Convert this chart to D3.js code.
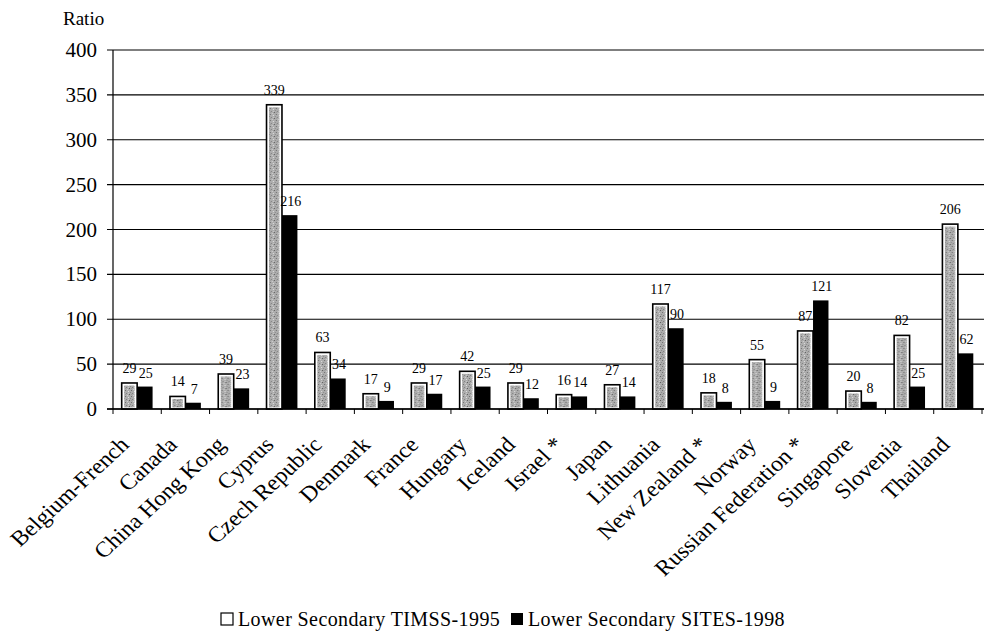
<!DOCTYPE html>
<html>
<head>
<meta charset="utf-8">
<script src="https://cdn.jsdelivr.net/npm/d3@7"></script>
<style>
  html, body { margin: 0; padding: 0; background: #fff; }
  svg { display: block; }
</style>
</head>
<body>
<script>
const categories = ["Belgium-French", "Canada", "China Hong Kong", "Cyprus", "Czech Republic", "Denmark", "France", "Hungary", "Iceland", "Israel *", "Japan", "Lithuania", "New Zealand *", "Norway", "Russian Federation *", "Singapore", "Slovenia", "Thailand"];
const timss1995 = [29, 14, 39, 339, 63, 17, 29, 42, 29, 16, 27, 117, 18, 55, 87, 20, 82, 206];
const sites1998 = [25, 7, 23, 216, 34, 9, 17, 25, 12, 14, 14, 90, 8, 9, 121, 8, 25, 62];
const seriesNames = ["Lower Secondary TIMSS-1995", "Lower Secondary SITES-1998"];
const yTicks = [0, 50, 100, 150, 200, 250, 300, 350, 400];

const W = 984, H = 638;
const FONT = "'Liberation Serif', 'DejaVu Serif', 'Times New Roman', serif";
const margin = { left: 113, right: 2, top: 50, bottom: 229 };
const svg = d3.select("body").append("svg").attr("width", W).attr("height", H)
  .attr("font-family", FONT).style("font-family", FONT);

// speckled texture pattern
const defs = svg.append("defs");
const pat = defs.append("pattern").attr("id", "speck").attr("patternUnits", "userSpaceOnUse")
  .attr("width", 6).attr("height", 6);
pat.append("rect").attr("width", 6).attr("height", 6).attr("fill", "#adadad");
const speckDots = [[0,0,"#6e6e6e"],[3,1,"#e0e0e0"],[1,3,"#808080"],[4,4,"#5a5a5a"],[2,5,"#d0d0d0"],[5,2,"#8a8a8a"],[0,4,"#9a9a9a"],[3,3,"#c8c8c8"]];
speckDots.forEach(([x,y,c]) => pat.append("rect").attr("x", x).attr("y", y).attr("width", 1).attr("height", 1).attr("fill", c));

const x0 = d3.scaleBand().domain(categories).range([margin.left, W - margin.right]).paddingInner(0).paddingOuter(0);
const bw = x0.bandwidth();
const x1 = d3.scaleBand().domain([0, 1]).range([bw * 0.18, bw * 0.82]).padding(0);
const y = d3.scaleLinear().domain([0, 400]).range([H - margin.bottom, margin.top]);

// gridlines
svg.append("g").selectAll("line").data(yTicks).join("line")
  .attr("x1", margin.left - 6).attr("x2", W)
  .attr("y1", d => y(d)).attr("y2", d => y(d))
  .attr("stroke", "#000").attr("stroke-width", 1.2);

// y tick labels
svg.append("g").selectAll("text").data(yTicks).join("text")
  .attr("x", 97).attr("y", d => y(d) + 7)
  .attr("text-anchor", "end").attr("font-size", 21)
  .text(d => d);

svg.append("text").attr("x", 63).attr("y", 25).attr("font-size", 19).text("Ratio");

// y axis line
svg.append("line").attr("x1", margin.left).attr("x2", margin.left)
  .attr("y1", y(400)).attr("y2", y(0)).attr("stroke", "#000").attr("stroke-width", 1.2);

// x axis ticks
const tickXs = categories.map(c => x0(c)).concat([x0(categories[categories.length - 1]) + bw]);
svg.append("g").selectAll("line").data(tickXs).join("line")
  .attr("x1", d => d).attr("x2", d => d).attr("y1", y(0)).attr("y2", y(0) + 5)
  .attr("stroke", "#000").attr("stroke-width", 1);

const groups = svg.append("g").selectAll("g").data(categories).join("g")
  .attr("transform", d => `translate(${x0(d)},0)`);

// series 1 bars (outlined, speckled)
groups.append("rect")
  .attr("x", x1(0)).attr("width", x1.bandwidth())
  .attr("y", (d, i) => y(timss1995[i])).attr("height", (d, i) => y(0) - y(timss1995[i]))
  .attr("fill", "#fff").attr("stroke", "#000").attr("stroke-width", 1.6);
groups.append("rect")
  .attr("x", x1(0) + 2.5).attr("width", x1.bandwidth() - 5)
  .attr("y", (d, i) => y(timss1995[i]) + 2.5)
  .attr("height", (d, i) => Math.max(0, y(0) - y(timss1995[i]) - 4))
  .attr("fill", "url(#speck)");

// series 2 bars (black)
groups.append("rect")
  .attr("x", x1(1)).attr("width", x1.bandwidth())
  .attr("y", (d, i) => y(sites1998[i])).attr("height", (d, i) => y(0) - y(sites1998[i]))
  .attr("fill", "#000");

// value labels
groups.append("text")
  .attr("x", x1(0) + x1.bandwidth() / 2).attr("y", (d, i) => y(timss1995[i]) - 10)
  .attr("text-anchor", "middle").attr("font-size", 14).text((d, i) => timss1995[i]);
groups.append("text")
  .attr("x", x1(1) + x1.bandwidth() / 2 + 1).attr("y", (d, i) => y(sites1998[i]) - 9)
  .attr("text-anchor", "middle").attr("font-size", 14).text((d, i) => sites1998[i]);

// x axis line
svg.append("line").attr("x1", margin.left - 6).attr("x2", W)
  .attr("y1", y(0)).attr("y2", y(0)).attr("stroke", "#000").attr("stroke-width", 1.5);

// category labels
svg.append("g").selectAll("text").data(categories).join("text")
  .attr("transform", d => `translate(${x0(d) + bw / 2 - 7},${y(0) + 37}) scale(1.08,1) rotate(-45)`)
  .attr("text-anchor", "end").attr("font-size", 22).text(d => d);

// legend
const lg = svg.append("g").attr("transform", "translate(221,619)");
lg.append("rect").attr("x", 0).attr("y", -6).attr("width", 12).attr("height", 12)
  .attr("fill", "#fff").attr("stroke", "#000").attr("stroke-width", 1.2);
lg.append("text").attr("x", 17).attr("y", 7).attr("font-size", 20).attr("letter-spacing", 0.4).text(seriesNames[0]);
lg.append("rect").attr("x", 290).attr("y", -6).attr("width", 12).attr("height", 12).attr("fill", "#000");
lg.append("text").attr("x", 307).attr("y", 7).attr("font-size", 20).attr("letter-spacing", 0.4).text(seriesNames[1]);
</script>
</body>
</html>
